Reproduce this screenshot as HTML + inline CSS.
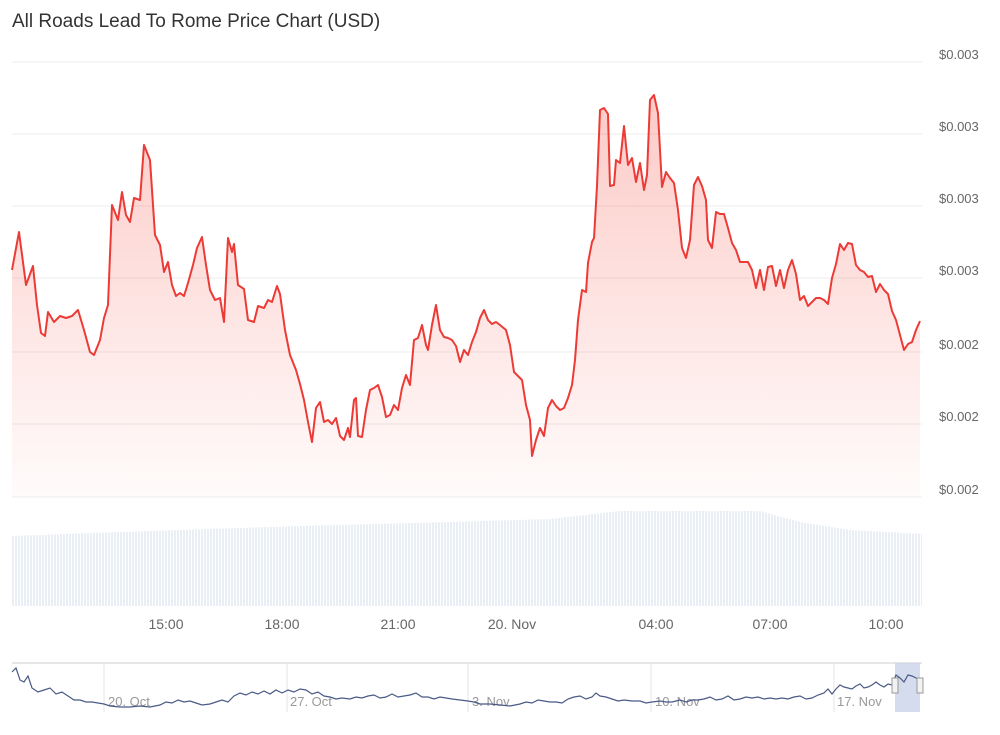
<!DOCTYPE html>
<html><head><meta charset="utf-8"><style>
body{margin:0;background:#fff;width:1000px;height:730px;overflow:hidden;font-family:"Liberation Sans",sans-serif}
</style></head><body>
<svg width="1000" height="730" xmlns="http://www.w3.org/2000/svg" font-family="Liberation Sans, sans-serif">
<defs>
<linearGradient id="g" x1="0" y1="0" x2="0" y2="1">
<stop offset="0" stop-color="#f44336" stop-opacity="0.28"/>
<stop offset="1" stop-color="#f44336" stop-opacity="0.02"/>
</linearGradient>
<pattern id="vb" width="3" height="10" patternUnits="userSpaceOnUse"><rect width="2" height="10" fill="#e9eff4"/></pattern>
</defs>
<text x="12" y="27" font-size="19" fill="#333">All Roads Lead To Rome Price Chart (USD)</text>
<g stroke="#ececec" stroke-width="1">
<line x1="12" y1="62" x2="922" y2="62"/><line x1="12" y1="134" x2="922" y2="134"/><line x1="12" y1="206" x2="922" y2="206"/><line x1="12" y1="278" x2="922" y2="278"/><line x1="12" y1="352" x2="922" y2="352"/><line x1="12" y1="424" x2="922" y2="424"/><line x1="12" y1="497" x2="922" y2="497"/>
</g>
<g font-size="13" fill="#666">
<text x="939" y="59">$0.003</text><text x="939" y="131">$0.003</text><text x="939" y="203">$0.003</text><text x="939" y="275">$0.003</text><text x="939" y="349">$0.002</text><text x="939" y="421">$0.002</text><text x="939" y="494">$0.002</text>
</g>
<polygon fill="url(#vb)" points="12,606 12,536 150,531 300,526 450,522 550,519 620,511 760,511 800,522 850,530 922,534 922,606"/>
<g font-size="14" fill="#666" text-anchor="middle">
<text x="166" y="629">15:00</text><text x="282" y="629">18:00</text><text x="398" y="629">21:00</text><text x="512" y="629">20. Nov</text><text x="656" y="629">04:00</text><text x="770" y="629">07:00</text><text x="886" y="629">10:00</text>
</g>
<g id="p">
<polygon fill="url(#g)" points="12,497 12,270 19,232 26,285 33,266 37,305 41,333 45,336 48,312 54,322 60,316 66,318 72,316 78,310 84,330 90,352 94,355 100,340 104,318 108,305 112,205 118,220 122,192 126,215 130,222 134,198 140,200 144,145 150,160 155,235 160,245 164,272 168,262 172,285 176,296 180,293 184,296 188,283 193,265 197,248 202,237 206,265 210,290 215,300 220,298 224,322 228,238 232,252 234,244 238,285 244,289 248,320 254,322 258,306 264,308 268,300 272,302 277,286 280,294 285,330 290,355 296,370 300,384 304,400 308,422 312,442 316,408 320,402 324,422 328,420 332,424 336,418 340,436 344,440 348,428 350,437 354,400 356,398 358,436 362,437 366,410 370,390 374,388 378,385 382,397 386,417 390,415 394,405 398,410 402,388 406,375 410,385 414,340 418,338 422,325 426,345 428,350 432,325 436,305 440,330 444,337 448,338 452,340 456,346 460,362 464,350 468,355 472,342 476,332 480,318 484,310 488,320 492,324 496,322 500,325 506,330 510,345 514,372 518,376 522,380 526,405 530,420 532,456 536,440 540,428 544,436 548,408 552,400 556,406 560,410 564,408 568,398 572,385 575,360 578,320 582,290 586,292 588,263 592,242 594,238 597,186 600,110 604,108 608,114 610,186 614,185 616,160 620,163 624,126 628,165 632,158 636,182 640,163 644,190 647,175 650,100 654,95 658,113 662,187 666,172 670,178 674,183 678,210 682,248 686,258 690,240 694,185 698,177 702,186 706,200 708,240 712,248 716,212 720,214 724,214 728,228 732,243 736,250 740,262 744,262 748,262 752,270 756,288 760,270 764,290 768,267 772,266 776,286 780,270 784,288 788,270 792,260 796,274 800,300 804,296 808,306 812,302 816,298 820,298 824,300 828,304 832,278 836,264 840,244 844,250 848,243 852,244 856,265 860,270 864,272 868,277 872,276 876,292 880,284 884,290 888,294 892,311 896,320 900,335 904,350 908,344 912,342 916,330 920,321 920,497"/>
<polyline fill="none" stroke="#ec3b36" stroke-width="2" stroke-linejoin="round" points="12,270 19,232 26,285 33,266 37,305 41,333 45,336 48,312 54,322 60,316 66,318 72,316 78,310 84,330 90,352 94,355 100,340 104,318 108,305 112,205 118,220 122,192 126,215 130,222 134,198 140,200 144,145 150,160 155,235 160,245 164,272 168,262 172,285 176,296 180,293 184,296 188,283 193,265 197,248 202,237 206,265 210,290 215,300 220,298 224,322 228,238 232,252 234,244 238,285 244,289 248,320 254,322 258,306 264,308 268,300 272,302 277,286 280,294 285,330 290,355 296,370 300,384 304,400 308,422 312,442 316,408 320,402 324,422 328,420 332,424 336,418 340,436 344,440 348,428 350,437 354,400 356,398 358,436 362,437 366,410 370,390 374,388 378,385 382,397 386,417 390,415 394,405 398,410 402,388 406,375 410,385 414,340 418,338 422,325 426,345 428,350 432,325 436,305 440,330 444,337 448,338 452,340 456,346 460,362 464,350 468,355 472,342 476,332 480,318 484,310 488,320 492,324 496,322 500,325 506,330 510,345 514,372 518,376 522,380 526,405 530,420 532,456 536,440 540,428 544,436 548,408 552,400 556,406 560,410 564,408 568,398 572,385 575,360 578,320 582,290 586,292 588,263 592,242 594,238 597,186 600,110 604,108 608,114 610,186 614,185 616,160 620,163 624,126 628,165 632,158 636,182 640,163 644,190 647,175 650,100 654,95 658,113 662,187 666,172 670,178 674,183 678,210 682,248 686,258 690,240 694,185 698,177 702,186 706,200 708,240 712,248 716,212 720,214 724,214 728,228 732,243 736,250 740,262 744,262 748,262 752,270 756,288 760,270 764,290 768,267 772,266 776,286 780,270 784,288 788,270 792,260 796,274 800,300 804,296 808,306 812,302 816,298 820,298 824,300 828,304 832,278 836,264 840,244 844,250 848,243 852,244 856,265 860,270 864,272 868,277 872,276 876,292 880,284 884,290 888,294 892,311 896,320 900,335 904,350 908,344 912,342 916,330 920,321"/>
</g>
<line x1="12" y1="663" x2="922" y2="663" stroke="#ccc"/>
<g stroke="#e6e6e6"><line x1="104" y1="663" x2="104" y2="712"/><line x1="287" y1="663" x2="287" y2="712"/><line x1="468" y1="663" x2="468" y2="712"/><line x1="651" y1="663" x2="651" y2="712"/><line x1="834" y1="663" x2="834" y2="712"/></g>
<g font-size="13" fill="#999"><text x="108" y="706">20. Oct</text><text x="290" y="706">27. Oct</text><text x="472" y="706">3. Nov</text><text x="655" y="706">10. Nov</text><text x="837" y="706">17. Nov</text></g>
<rect x="895" y="663" width="25" height="49" fill="#c9d3e8" opacity="0.8"/>
<polyline fill="none" stroke="#4a5a86" stroke-width="1.2" points="12,672 16,668 20,680 24,682 28,676 32,688 38,692 44,690 50,688 56,694 62,692 68,696 74,700 80,700 86,702 92,702 98,703 104,704 110,706 120,707 130,707 140,706 150,707 160,705 166,702 172,703 178,700 184,702 190,701 196,703 202,705 210,704 216,702 222,700 228,702 234,696 240,693 246,695 252,692 258,694 264,691 270,694 276,690 282,693 288,690 294,692 300,689 306,690 312,694 318,692 324,696 330,697 336,699 342,698 350,699 356,697 362,698 368,696 374,695 380,698 386,697 392,694 398,697 404,696 410,695 416,693 422,697 428,697 434,699 440,697 446,698 452,699 460,700 468,701 474,702 480,704 490,704 500,705 510,706 520,704 526,702 532,703 538,700 544,701 550,702 556,702 562,703 568,699 574,697 580,696 586,699 592,697 596,693 600,696 606,697 612,699 618,701 624,700 632,701 640,701 646,703 652,702 660,701 666,702 672,702 680,700 686,702 692,700 698,700 704,699 710,697 716,700 722,699 728,696 734,700 740,699 746,697 752,698 758,697 764,699 770,698 776,699 782,698 788,699 794,697 800,696 806,699 812,698 818,695 824,693 828,689 832,694 836,689 840,685 844,687 848,688 852,689 856,686 860,684 864,688 868,687 872,685 876,682 880,685 884,687 888,684 892,685 896,675 900,678 904,682 908,675 912,676 916,678 920,680"/>
<rect x="892" y="678" width="6" height="15" fill="#f2f2f2" stroke="#999"/>
<rect x="917" y="678" width="6" height="15" fill="#f2f2f2" stroke="#999"/>
</svg>
</body></html>
